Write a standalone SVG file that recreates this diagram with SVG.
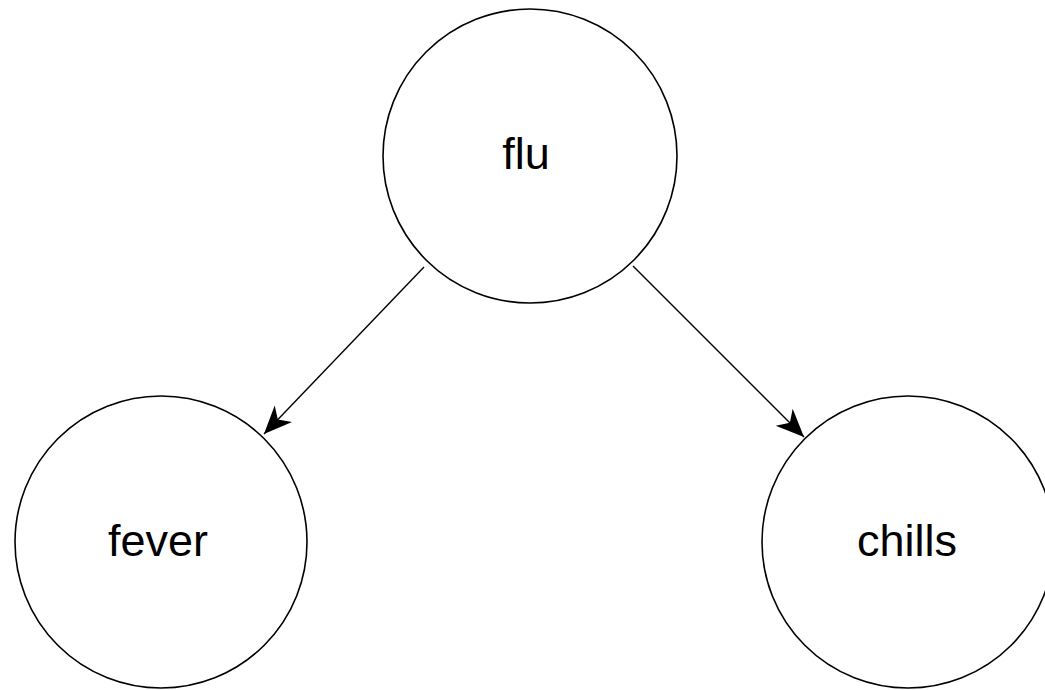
<svg xmlns="http://www.w3.org/2000/svg" width="1045" height="690" viewBox="0 0 1045 690">
<style>
.node circle{fill:#ffffff;stroke:#000000;stroke-width:1.6}
.node text{font-family:"Liberation Sans",Arial,sans-serif;font-size:45px;fill:#000000;text-anchor:middle}
.edge{stroke:#000000;stroke-width:1.4;fill:none}
</style>
<defs>
<marker id="arrow" markerUnits="userSpaceOnUse" markerWidth="32" markerHeight="28" refX="28" refY="14" orient="auto">
<path d="M0,2 L28,14 L0,26 L8,14 Z" fill="#000000"/>
</marker>
</defs>
<rect width="1045" height="690" fill="#ffffff"/>
<g id="connectors">
<line class="edge" x1="424" y1="267" x2="264" y2="434" marker-end="url(#arrow)"/>
<line class="edge" x1="633" y1="266" x2="804" y2="437" marker-end="url(#arrow)"/>
</g>
<g id="node-flu" class="node">
<circle cx="530" cy="156" r="147"/>
<text x="526" y="169">flu</text>
</g>
<g id="node-fever" class="node">
<circle cx="161" cy="542" r="146"/>
<text x="158" y="556">fever</text>
</g>
<g id="node-chills" class="node">
<circle cx="908" cy="542" r="146"/>
<text x="907" y="556">chills</text>
</g>
</svg>
